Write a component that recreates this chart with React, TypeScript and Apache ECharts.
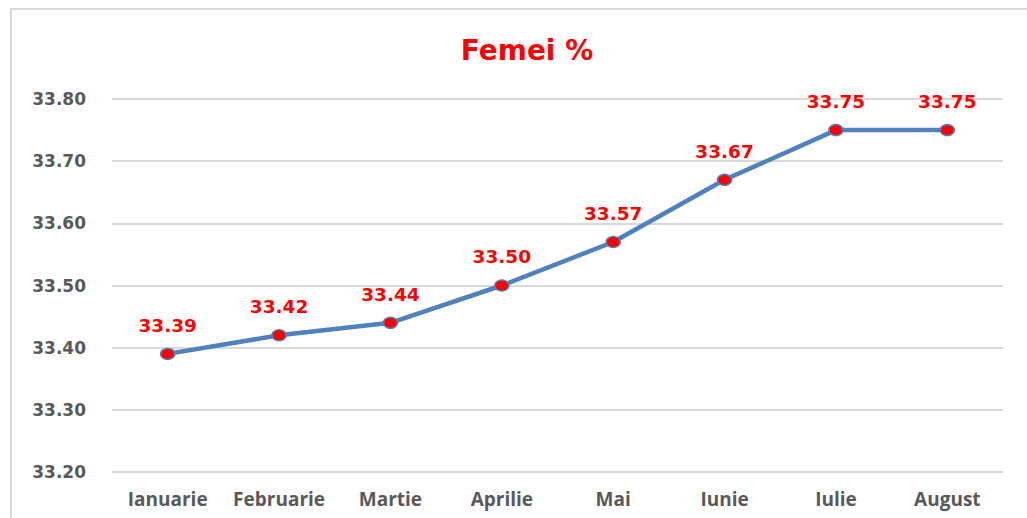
import React, { useEffect, useRef } from "react";
import * as echarts from "echarts";

const categories = ["Ianuarie", "Februarie", "Martie", "Aprilie", "Mai", "Iunie", "Iulie", "August"];
const values = [33.39, 33.42, 33.44, 33.5, 33.57, 33.67, 33.75, 33.75];
const titleText = "Femei %";

export default function App() {
  const ref = useRef<HTMLDivElement>(null);
  useEffect(() => {
    const chart = echarts.init(ref.current!, undefined, { renderer: "svg" });
    chart.setOption({
      animation: false,
      backgroundColor: "#ffffff",
      title: {
        text: titleText,
        left: 522,
        top: 31,
        textAlign: "center",
        textStyle: { color: "#ff0000", fontSize: 28, fontWeight: "bold", fontFamily: "DejaVu Sans" },
      },
      graphic: [
        {
          type: "rect",
          shape: { x: 11, y: 9, width: 1030, height: 520 },
          style: { fill: "none", stroke: "#d9d9d9", lineWidth: 2 },
          silent: true,
        },
      ],
      grid: { left: 112, right: 24, top: 99, bottom: 46, containLabel: false },
      xAxis: {
        type: "category",
        data: categories,
        boundaryGap: true,
        axisLine: { show: false },
        axisTick: { show: false },
        axisLabel: {
          interval: 0,
          color: "#595959",
          fontSize: 19,
          fontWeight: "bold",
          fontFamily: "Open Sans",
          margin: 17,
        },
      },
      yAxis: {
        type: "value",
        min: 33.2,
        max: 33.8,
        interval: 0.1,
        axisLine: { show: false },
        axisTick: { show: false },
        splitLine: { lineStyle: { color: "#d9d9d9", width: 2 } },
        axisLabel: {
          color: "#595959",
          fontSize: 17,
          fontWeight: "bold",
          fontFamily: "DejaVu Sans",
          margin: 26,
          formatter: (v: number) => v.toFixed(2),
        },
      },
      series: [
        {
          type: "line",
          data: values,
          lineStyle: { color: "#4f81bd", width: 4.5 },
          symbol: "circle",
          symbolSize: [14, 11],
          itemStyle: { color: "#ff0000", borderColor: "#4f81bd", borderWidth: 1.5 },
          label: {
            show: true,
            position: "top",
            distance: 13,
            color: "#ff0000",
            fontSize: 18.5,
            fontWeight: "bold",
            fontFamily: "DejaVu Sans",
            formatter: (p: any) => p.value.toFixed(2),
          },
        },
      ],
    });
    return () => chart.dispose();
  }, []);
  return <div ref={ref} style={{ position: "fixed", left: 0, top: 0, width: 1027, height: 518 }} />;
}
